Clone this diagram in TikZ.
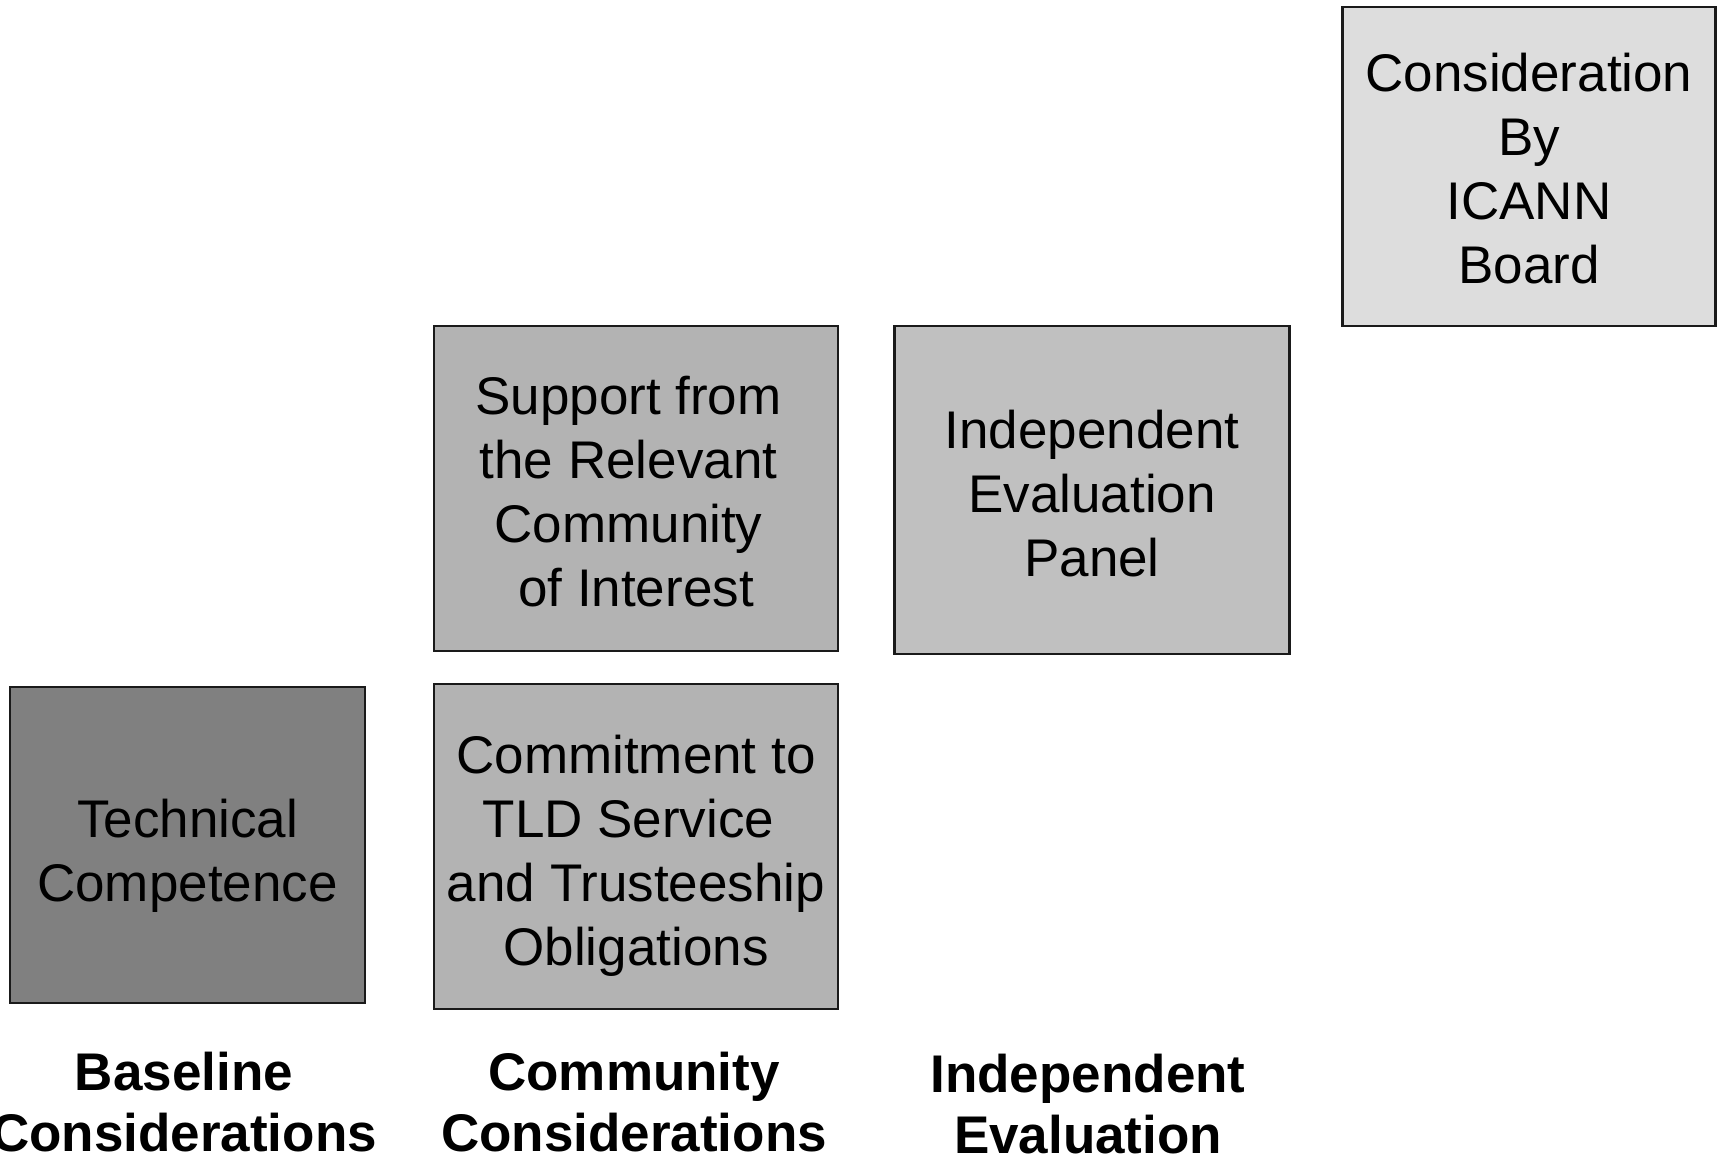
\documentclass[tikz,border=0pt]{standalone}
\usepackage{fontspec}
\setmainfont{Liberation Sans}
\definecolor{techgray}{HTML}{808080}
\definecolor{commgray}{HTML}{B3B3B3}
\definecolor{evalgray}{HTML}{C0C0C0}
\definecolor{boardgray}{HTML}{DDDDDD}
\definecolor{edge}{HTML}{1A1A1A}
\begin{document}
\begin{tikzpicture}[x=1pt,y=-1pt,
  box/.style={draw=edge,line width=2.5pt,inner sep=0pt},
  boxtext/.style={inner sep=0pt,align=center,
    font=\fontsize{53}{64}\selectfont},
  colhead/.style={align=center,inner sep=0pt,
    font=\fontsize{53}{60.5}\selectfont\bfseries}]
\useasboundingbox[fill=white] (0,0) rectangle (1719,1159);
% boxes
\node[box,fill=boardgray,minimum width=373pt,minimum height=319pt] (board) at (1529,166.5) {};
\node[box,fill=evalgray,minimum width=395pt,minimum height=328pt] (panel) at (1092,490) {};
\node[box,fill=commgray,minimum width=404pt,minimum height=325pt] (support) at (636,488.5) {};
\node[box,fill=commgray,minimum width=404pt,minimum height=325pt] (commit) at (636,846.5) {};
\node[box,fill=techgray,minimum width=355pt,minimum height=316pt] (tech) at (187.5,845) {};
% box texts
\node[boxtext] (board-t) at ([yshift=-2.5pt]board.center) {Consideration\\By\\ICANN\\Board};
\node[boxtext] (panel-t) at ([yshift=-3.3pt]panel.center) {Independent\\Evaluation\\Panel};
\node[boxtext] (support-t) at ([yshift=-3.3pt]support.center)
  {Support from\kern15pt\\the Relevant\kern15pt\\Community\kern15pt\\of Interest};
\node[boxtext] (commit-t) at ([yshift=-8.8pt]commit.center)
  {Commitment to\\TLD Service\kern15pt\\and Trusteeship\\Obligations};
\node[boxtext] (tech-t) at ([yshift=-11pt]tech.center) {Technical\\Competence};
% column headings (base = last line)
\node[colhead,anchor=base] (h1) at (184,1151) {Baseline\\Considerations};
\node[colhead,anchor=base] (h2) at (634,1151) {Community\\Considerations};
\node[colhead,anchor=base] (h3) at (1088,1153) {Independent\\Evaluation};
\end{tikzpicture}
\end{document}
